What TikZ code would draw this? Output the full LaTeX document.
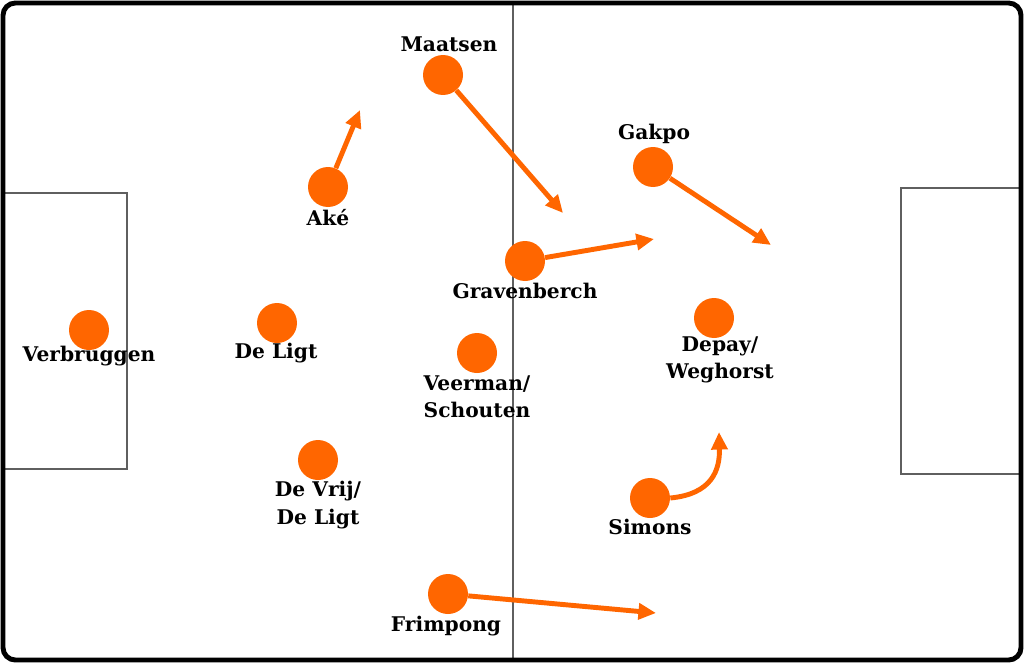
\documentclass[tikz,border=0pt]{standalone}
\usepackage{fontspec}
\setmainfont{DejaVu Serif}
\usetikzlibrary{arrows.meta}
\definecolor{oranje}{RGB}{255,102,0}
\definecolor{veldlijn}{RGB}{95,95,95}

\begin{document}
\begin{tikzpicture}[
    x=0.02cm, y=-0.02cm,
    player/.style={circle,fill=oranje,minimum size=0.8cm,inner sep=0pt},
    naam/.style={font=\fontsize{11.5}{15.5}\selectfont\bfseries,align=center,inner sep=0pt},
    run/.style={draw=oranje,line width=2.8pt,-{Triangle[length=10pt,width=9pt]}},
    veld/.style={draw=veldlijn,line width=0.8pt}
]
\useasboundingbox (0,0) rectangle (1024,663);
% pitch
\fill[white] (0,0) rectangle (1024,663);
\draw[veld] (513,3) -- (513,660);
\draw[veld] (3,193) -- (127,193) -- (127,469) -- (3,469);
\draw[veld] (1021,188) -- (901,188) -- (901,474) -- (1021,474);
\draw[line width=2.8pt,rounded corners=7pt] (3,3) rectangle (1021,660);

% players
\node[player] (verbruggen) at (89,330) {};
\node[player] (deligt) at (277,323) {};
\node[player] (devrij) at (318,460) {};
\node[player] (ake) at (328,187) {};
\node[player] (maatsen) at (443,75) {};
\node[player] (veerman) at (477,353) {};
\node[player] (gravenberch) at (525,261) {};
\node[player] (frimpong) at (448,594) {};
\node[player] (gakpo) at (653,167) {};
\node[player] (depay) at (714,318) {};
\node[player] (simons) at (650,498) {};

% names
\node[naam] (verbruggen-naam) at (89,356) {Verbruggen};
\node[naam] (deligt-naam) at (276,353) {De Ligt};
\node[naam] (devrij-naam) at (318,505) {De Vrij/\\De Ligt};
\node[naam] (ake-naam) at (328,218) {Aké};
\node[naam] (maatsen-naam) at (449,44) {Maatsen};
\node[naam] (veerman-naam) at (477,397) {Veerman/\\Schouten};
\node[naam] (gravenberch-naam) at (525,291) {Gravenberch};
\node[naam] (frimpong-naam) at (446,626) {Frimpong};
\node[naam] (gakpo-naam) at (654,134) {Gakpo};
\node[naam] (depay-naam) at (720,360) {Depay/\\Weghorst};
\node[naam] (simons-naam) at (650,527) {Simons};

% runs
\coordinate (ake-doel) at (360,110);
\coordinate (maatsen-doel) at (563,213);
\coordinate (gravenberch-doel) at (654,239);
\coordinate (gakpo-doel) at (771,245);
\coordinate (frimpong-doel) at (656,613);
\coordinate (simons-doel) at (719,432);

\draw[run] (ake) -- (ake-doel);
\draw[run] (maatsen) -- (maatsen-doel);
\draw[run] (gravenberch) -- (gravenberch-doel);
\draw[run] (gakpo) -- (gakpo-doel);
\draw[run] (frimpong) -- (frimpong-doel);
\draw[run] (simons.east) .. controls (712,494) and (720,470) .. (simons-doel);
\end{tikzpicture}
\end{document}
